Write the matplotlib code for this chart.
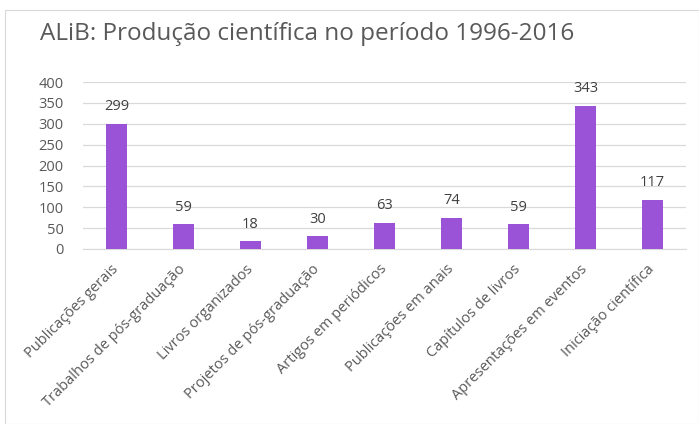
import matplotlib
matplotlib.use("Agg")
import matplotlib.pyplot as plt
from matplotlib.patches import Rectangle

categories = ["Publicações gerais", "Trabalhos de pós-graduação", "Livros organizados",
              "Projetos de pós-graduação", "Artigos em periódicos", "Publicações em anais",
              "Capítulos de livros", "Apresentações em eventos", "Iniciação científica"]
values = [299, 59, 18, 30, 63, 74, 59, 343, 117]
yticks = [0, 50, 100, 150, 200, 250, 300, 350, 400]
title = "ALiB: Produção científica no período 1996-2016"

plt.rcParams['font.family'] = ['Open Sans', 'DejaVu Sans']
W, H = 699, 424
fig = plt.figure(figsize=(W/100, H/100), dpi=100)

# faint frame of the screenshot
fig.patches.append(Rectangle((5/W, 0), 1 - 5/W, 1 - 10/H, transform=fig.transFigure,
                             fill=False, edgecolor="#d9d9d9", linewidth=0.8))

ax = fig.add_axes([83/W, 1 - 249/H, (686-83)/W, (249-82)/H])
x = list(range(len(categories)))
ax.bar(x, values, width=0.32, color="#9a52d6", zorder=3)
ax.set_xlim(-0.5, len(categories) - 0.5)
ax.set_ylim(0, 400)
ax.set_yticks(yticks)
ax.set_yticklabels([str(v) for v in yticks], fontsize=10.5, color="#595959")
ax.set_xticks(x)
ax.set_xticklabels(categories, rotation=45, ha="right", va="center", rotation_mode="anchor",
                   fontsize=10.5, color="#595959")
ax.tick_params(axis="both", length=0)
ax.tick_params(axis="x", pad=13)
ax.tick_params(axis="y", pad=14)
ax.grid(axis="y", color="#d9d9d9", linewidth=0.9, zorder=0)
for s in ["top", "right", "left"]:
    ax.spines[s].set_visible(False)
ax.spines["bottom"].set_color("#d9d9d9")
for xi, v in zip(x, values):
    ax.annotate(str(v), (xi, v), xytext=(0, 7), textcoords="offset points",
                ha="center", va="bottom", fontsize=10.5, color="#404040")

fig.text(40/W, 1 - 34/H, title, fontsize=17.5, color="#595959", va="center", ha="left")

fig.savefig("out.png", dpi=100)
